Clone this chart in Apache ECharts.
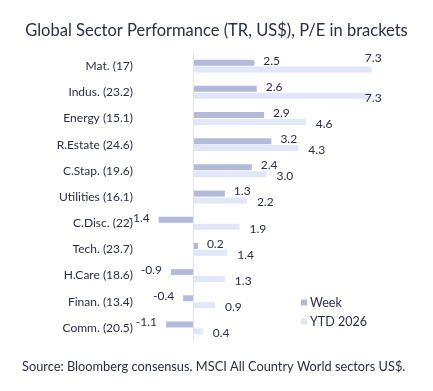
<!DOCTYPE html>
<html><head><meta charset="utf-8">
<script src="https://cdn.jsdelivr.net/npm/echarts@6/dist/echarts.min.js"></script>
<style>html,body{margin:0;padding:0;background:#fff}#c{width:433px;height:391px}</style>
</head><body><div id="c"></div>
<script>
var categories = ['Mat. (17)','Indus. (23.2)','Energy (15.1)','R.Estate (24.6)','C.Stap. (19.6)','Utilities (16.1)','C.Disc. (22)','Tech. (23.7)','H.Care (18.6)','Finan. (13.4)','Comm. (20.5)'];
var weekValues = [2.5, 2.6, 2.9, 3.2, 2.4, 1.3, -1.4, 0.2, -0.9, -0.4, -1.1];
var ytdValues = [7.3, 7.3, 4.6, 4.3, 3.0, 2.2, 1.9, 1.4, 1.3, 0.9, 0.4];
var seriesNames = ['Week', 'YTD 2026'];

var FONT = 'Lato';
var labelOffsetsYtd = {0: [-17, -11], 1: [-17, 2]};

var weekData = weekValues.map(function (v) {
  return { value: v, label: { position: v < 0 ? 'left' : 'right', offset: [0, -2] } };
});
var ytdData = ytdValues.map(function (v, i) {
  return { value: v, label: { offset: labelOffsetsYtd[i] || [0, 2] } };
});

var chart = echarts.init(document.getElementById('c'), null, { renderer: 'canvas' });
chart.setOption({
  animation: false,
  backgroundColor: '#ffffff',
  title: [{
    text: 'Global Sector Performance (TR, US$), P/E in brackets',
    left: 'center', top: 17,
    textStyle: { fontFamily: FONT, fontSize: 16.5, fontWeight: 'normal', color: '#2a2d45' }
  }, {
    text: 'Source: Bloomberg consensus. MSCI All Country World sectors US$.',
    left: 17, top: 355,
    textStyle: { fontFamily: FONT, fontSize: 12.8, fontWeight: 'normal', color: '#2a2d45' }
  }],
  legend: {
    orient: 'vertical', left: 296, top: 291,
    itemWidth: 6, itemHeight: 6, itemGap: 6, icon: 'rect',
    textStyle: { fontFamily: FONT, fontSize: 12.5, color: '#2a2d45', padding: [0, 0, 0, -2] },
    data: seriesNames
  },
  grid: { left: 144, right: 44, top: 53, bottom: 50, containLabel: false },
  xAxis: {
    type: 'value', min: -2, max: 8, show: false
  },
  yAxis: {
    type: 'category', data: categories, inverse: true,
    axisLine: { show: false }, axisTick: { show: false },
    axisLabel: { fontFamily: FONT, fontSize: 12, color: '#2a2d45', margin: 11 }
  },
  series: [{
    name: seriesNames[0], type: 'bar', data: weekData,
    barWidth: 6, barGap: '15%',
    itemStyle: { color: '#b3b9d9' },
    label: { show: true, distance: 9, fontFamily: FONT, fontSize: 12, color: '#2a2d45', formatter: function (p) { return p.value.toFixed(1); } },
    markLine: {
      silent: true, symbol: 'none', label: { show: false },
      lineStyle: { color: '#dfe3f0', type: 'solid', width: 1 },
      data: [{ xAxis: 0 }]
    }
  }, {
    name: seriesNames[1], type: 'bar', data: ytdData,
    barWidth: 6,
    itemStyle: { color: '#e1e6f8' },
    label: { show: true, position: 'right', distance: 10, fontFamily: FONT, fontSize: 12, color: '#2a2d45', formatter: function (p) { return p.value.toFixed(1); } }
  }]
});
</script></body></html>
